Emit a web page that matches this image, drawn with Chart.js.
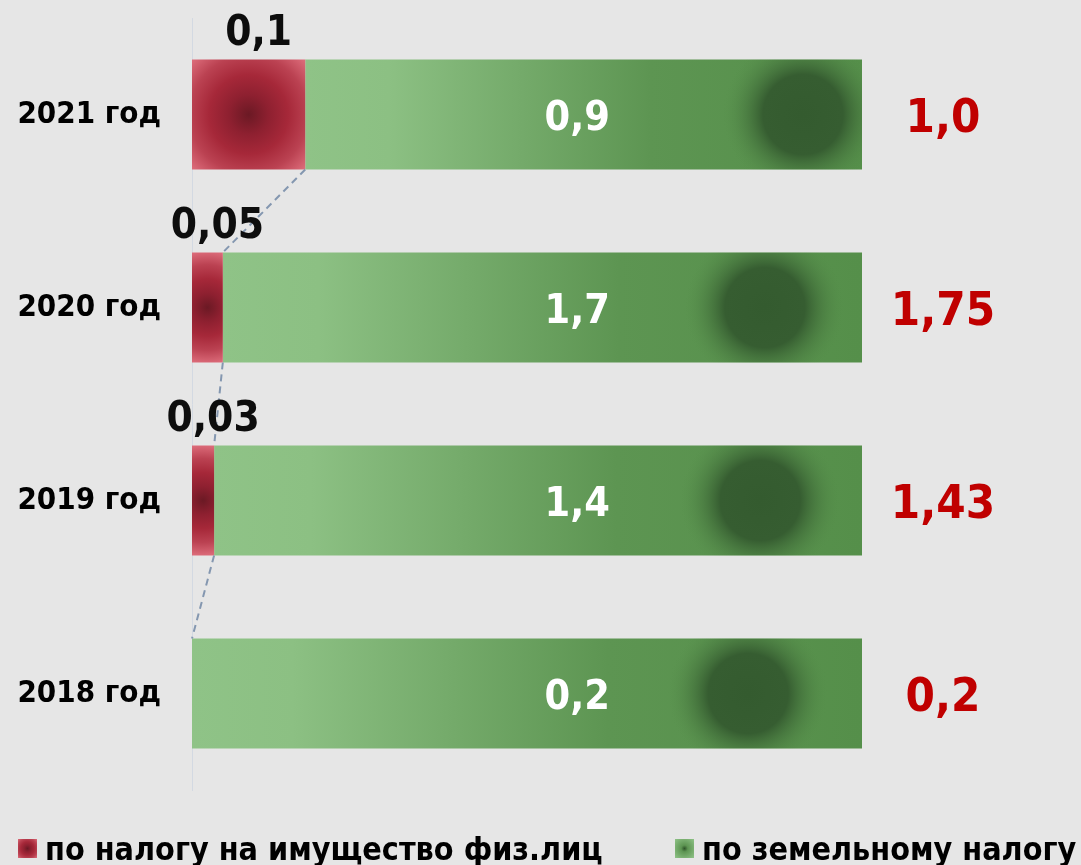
<!DOCTYPE html>
<html lang="ru">
<head>
  <meta charset="UTF-8" />
  <title>Налоги</title>
  <script src="https://cdn.jsdelivr.net/npm/chart.js"></script>
  <style>
    html, body { margin: 0; padding: 0; background: #e6e6e6; }
    canvas { display: block; }
  </style>
</head>
<body>
<canvas id="chartCanvas" width="1081" height="865"></canvas>

<script>
  // data (100% stacked, top row first)
  const categories = ['2021 год', '2020 год', '2019 год', '2018 год'];
  const seriesNames = ['по налогу на имущество физ.лиц', 'по земельному налогу'];
  const propertyShare = [16.9, 4.6, 3.3, 0];      // % of bar length
  const landShare = [83.1, 95.4, 96.7, 100];
  const propertyLabels = ['0,1', '0,05', '0,03', ''];
  const landLabels = ['0,9', '1,7', '1,4', '0,2'];
  const totalLabels = ['1,0', '1,75', '1,43', '0,2'];

  // style
  const FONT = '"DejaVu Sans Condensed", "DejaVu Sans", sans-serif';
  const BAR_PCT = 0.57;
  const GLOW_POS = [0.894, 0.848, 0.843, 0.83];   // dark glow spot along green segment
  const LAND_LABEL_AT = 57.5;                    // x value where green labels sit

  const ok = (...v) => v.every(Number.isFinite);

  function redGradient(ctx, x0, x1, cy, h) {
    const cx = (x0 + x1) / 2;
    const r = Math.max(Math.hypot(x1 - x0, h) / 2, 1);
    const g = ctx.createRadialGradient(cx, cy, 0, cx, cy, r);
    g.addColorStop(0, '#6b1924');
    g.addColorStop(0.25, '#8e2030');
    g.addColorStop(0.5, '#a62839');
    g.addColorStop(0.75, '#bb4252');
    g.addColorStop(1, '#de6e7c');
    return g;
  }

  function redFill(c) {
    const chart = c.chart, i = c.dataIndex;
    const { x, y } = chart.scales;
    if (i === undefined || !x || !y) return '#a82a3a';
    const x0 = x.getPixelForValue(0), x1 = x.getPixelForValue(propertyShare[i]);
    const cy = y.getPixelForValue(i);
    const h = Math.abs(y.getPixelForValue(1) - y.getPixelForValue(0)) * BAR_PCT;
    if (!ok(x0, x1, cy, h)) return '#a82a3a';
    return redGradient(chart.ctx, x0, x1, cy, h);
  }

  function greenFill(c) {
    const chart = c.chart, i = c.dataIndex;
    const { x } = chart.scales;
    if (i === undefined || !x) return '#6fa862';
    const x0 = x.getPixelForValue(propertyShare[i]), x1 = x.getPixelForValue(100);
    if (!ok(x0, x1) || x1 === x0) return '#6fa862';
    const g = chart.ctx.createLinearGradient(x0, 0, x1, 0);
    g.addColorStop(0, '#8fc387');
    g.addColorStop(0.15, '#8cc083');
    g.addColorStop(0.62, '#5d9552');
    g.addColorStop(1, '#558f4a');
    return g;
  }

  // dark glow on green bars, series lines, value labels, legend
  const decorPlugin = {
    id: 'decor',
    afterDatasetDraw(chart, args) {
      if (args.index !== 1) return;
      const ctx = chart.ctx;
      args.meta.data.forEach((el, i) => {
        const left = Math.min(el.base, el.x), right = Math.max(el.base, el.x);
        const top = el.y - el.height / 2;
        const cx = left + GLOW_POS[i] * (right - left);
        if (!ok(left, right, top, cx, el.y)) return;
        ctx.save();
        ctx.beginPath();
        ctx.rect(left, top, right - left, el.height);
        ctx.clip();
        const g = ctx.createRadialGradient(cx, el.y, 0, cx, el.y, 80);
        g.addColorStop(0, '#345b2f');
        g.addColorStop(0.5, '#365d31');
        g.addColorStop(1, 'rgba(86,143,74,0)');
        ctx.fillStyle = g;
        ctx.fillRect(left, top, right - left, el.height);
        ctx.restore();
      });
    },
    afterDatasetsDraw(chart) {
      const ctx = chart.ctx;
      const red = chart.getDatasetMeta(0).data;
      const green = chart.getDatasetMeta(1).data;
      const xs = chart.scales.x;

      // series lines
      ctx.save();
      ctx.strokeStyle = '#8497b0';
      ctx.lineWidth = 2;
      ctx.setLineDash([7, 5]);
      for (let i = 0; i < red.length - 1; i++) {
        const a = red[i], b = red[i + 1];
        ctx.beginPath();
        ctx.moveTo(a.x, a.y + a.height / 2);
        ctx.lineTo(b.x, b.y - b.height / 2);
        ctx.stroke();
      }
      ctx.restore();

      ctx.save();
      ctx.textAlign = 'center';
      ctx.textBaseline = 'alphabetic';
      red.forEach((el, i) => {
        if (propertyLabels[i]) {
          ctx.font = 'bold 42px ' + FONT;
          ctx.fillStyle = '#0d0d0d';
          ctx.fillText(propertyLabels[i], (el.base + el.x) / 2 + 10, el.y - el.height / 2 - 14);
        }
      });
      green.forEach((el, i) => {
        ctx.font = 'bold 41px ' + FONT;
        ctx.fillStyle = '#ffffff';
        ctx.fillText(landLabels[i], xs.getPixelForValue(LAND_LABEL_AT), el.y + 15);
        ctx.font = 'bold 47px ' + FONT;
        ctx.fillStyle = '#c00000';
        ctx.fillText(totalLabels[i], chart.chartArea.right + 81, el.y + 17);
      });
      ctx.restore();
    },
    afterDraw(chart) {
      const ctx = chart.ctx;
      const items = [
        { x: 18, text: seriesNames[0], kind: 'red' },
        { x: 675, text: seriesNames[1], kind: 'green' }
      ];
      const top = 839, size = 19;
      ctx.save();
      items.forEach(it => {
        let g;
        if (it.kind === 'red') {
          g = redGradient(ctx, it.x, it.x + size, top + size / 2, size);
        } else {
          const cx = it.x + size / 2, cy = top + size / 2;
          g = ctx.createRadialGradient(cx, cy, 0, cx, cy, size * 0.7);
          g.addColorStop(0, '#2f552a');
          g.addColorStop(0.25, '#5d9552');
          g.addColorStop(1, '#8fc387');
        }
        ctx.fillStyle = g;
        ctx.fillRect(it.x, top, size, size);
        ctx.font = 'bold 32px ' + FONT;
        ctx.fillStyle = '#000000';
        ctx.textAlign = 'left';
        ctx.textBaseline = 'alphabetic';
        ctx.fillText(it.text, it.x + 27, 860);
      });
      ctx.restore();
    }
  };

  new Chart(document.getElementById('chartCanvas').getContext('2d'), {
    type: 'bar',
    data: {
      labels: categories,
      datasets: [
        { label: seriesNames[0], data: propertyShare, backgroundColor: redFill },
        { label: seriesNames[1], data: landShare, backgroundColor: greenFill }
      ]
    },
    options: {
      indexAxis: 'y',
      responsive: false,
      animation: false,
      categoryPercentage: 1,
      barPercentage: BAR_PCT,
      layout: { padding: { left: 0, right: 219, top: 18, bottom: 75 } },
      scales: {
        x: { stacked: true, min: 0, max: 100, display: false },
        y: {
          stacked: true,
          grid: { display: false, drawTicks: false },
          border: { display: true, color: '#d3d9e2', width: 1 },
          ticks: {
            color: '#000000',
            padding: 31,
            font: { family: FONT, size: 31, weight: 'bold' }
          },
          afterFit(scale) {
            scale.width = 192;
            scale.paddingTop = 0;
            scale.paddingBottom = 0;
          }
        }
      },
      plugins: {
        legend: { display: false },
        tooltip: { enabled: false }
      }
    },
    plugins: [decorPlugin]
  });
</script>
</body>
</html>
